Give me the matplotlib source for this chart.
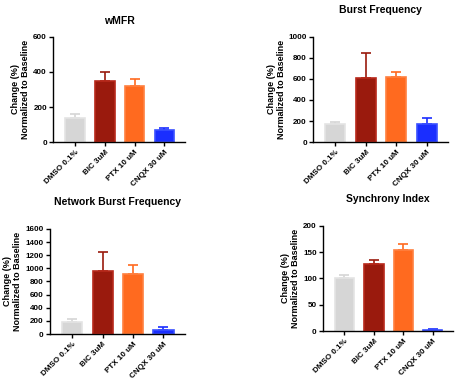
import matplotlib

matplotlib.use("Agg")
import matplotlib.pyplot as plt
import numpy as np

plt.rcParams["font.family"] = ["Liberation Sans", "DejaVu Sans"]
plt.rcParams["font.weight"] = "bold"

groups = ["DMSO 0.1%", "BIC 3uM", "PTX 10 uM", "CNQX 30 uM"]
face_colors = ["#d6d6d6", "#9a1a0d", "#ff6a1f", "#1a2eff"]
edge_colors = ["#e4e4e4", "#b8291b", "#ff8040", "#3a50ff"]

wmfr_mean = [135, 350, 320, 70]
wmfr_sem = [23, 50, 37, 10]

burst_mean = [170, 605, 615, 175]
burst_sem = [25, 245, 55, 50]

nburst_mean = [185, 955, 920, 60]
nburst_sem = [45, 290, 130, 45]

sync_mean = [100, 127, 154, 2]
sync_sem = [7, 8, 12, 2]

# title, means, sems, yticks, axes rect, title pad
panels = [
    ("wMFR", wmfr_mean, wmfr_sem, [0, 200, 400, 600], [0.112, 0.630, 0.278, 0.274], 9),
    ("Burst Frequency", burst_mean, burst_sem, [0, 200, 400, 600, 800, 1000], [0.659, 0.630, 0.284, 0.274], 17),
    ("Network Burst Frequency", nburst_mean, nburst_sem, list(range(0, 1601, 200)), [0.105, 0.130, 0.284, 0.274], 17),
    ("Synchrony Index", sync_mean, sync_sem, [0, 50, 100, 150, 200], [0.680, 0.138, 0.274, 0.274], 17),
]

fig = plt.figure(figsize=(4.75, 3.84), dpi=100)
x = np.arange(len(groups))

for title, mean, sem, yticks, rect, pad in panels:
    ax = fig.add_axes(rect)
    ax.bar(x, mean, width=0.66, color=face_colors, edgecolor=edge_colors, linewidth=1.2, zorder=2)
    for xi, m, s, c in zip(x, mean, sem, face_colors):
        ax.errorbar(xi, m, yerr=[[0], [s]], color=c, capsize=3.5, elinewidth=1.2, capthick=1.2, zorder=1)
    ax.set_xlim(-0.73, 3.7)
    ax.set_ylim(0, yticks[-1])
    ax.set_yticks(yticks)
    ax.set_xticks(x)
    ax.set_xticklabels(groups, rotation=45, ha="right", rotation_mode="anchor", fontsize=5.8)
    ax.tick_params(axis="y", labelsize=5.8, length=3, width=1, pad=1.5)
    ax.tick_params(axis="x", length=3, width=1, pad=2)
    for sp in ["top", "right"]:
        ax.spines[sp].set_visible(False)
    for sp in ["left", "bottom"]:
        ax.spines[sp].set_linewidth(1)
    ax.set_ylabel("Change (%)\nNormalized to Baseline", fontsize=6.5, fontweight="bold",
                  linespacing=1.15, labelpad=2)
    ax.set_title(title, fontsize=7.5, fontweight="bold", pad=pad)

fig.savefig("out.png", dpi=100)
